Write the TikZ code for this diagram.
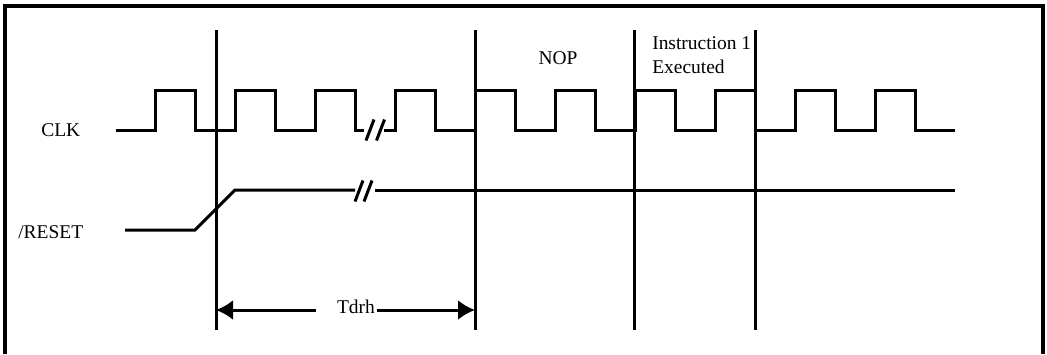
\documentclass[tikz,border=0pt]{standalone}
\usepackage{fontspec}
\setmainfont{Liberation Serif}
\usetikzlibrary{arrows.meta}

\begin{document}
\begin{tikzpicture}[x=0.75pt,y=-0.75pt,
	wave/.style={line width=2.25pt,line join=miter},
	marker/.style={line width=2.25pt},
	brk/.style={line width=2.25pt},
	sigtext/.style={inner sep=0pt,font=\fontsize{14.6}{18}\selectfont},
	spanarrow/.style={line width=2.25pt,-{Latex[length=12.75pt,width=15pt]}}]
  \useasboundingbox (0,0) rectangle (1047,354);
  \draw[line width=2.6pt] (5,354) -- (5,6) -- (1043,6) -- (1043,354);

  \foreach \x/\name in {216/m1,475/m2,634/m3,755/m4}
	{
	\coordinate (\name top) at (\x,30);
	\coordinate (\name bot) at (\x,330);
	\draw[marker] (\name top) -- (\name bot);
	}

  \coordinate (clkstart) at (116,130);
  \coordinate (clkgapl) at (364,130);
  \coordinate (clkgapr) at (384,130);
  \coordinate (clkend) at (955,130);
  \draw[wave] (clkstart)
	\foreach \k in {0,...,2}
		{ -- ({155+80*\k},130) -- ({155+80*\k},90) -- ({195+80*\k},90) -- ({195+80*\k},130) }
	-- (clkgapl);
  \draw[wave] (clkgapr)
	\foreach \k in {3,...,9}
		{ -- ({155+80*\k},130) -- ({155+80*\k},90) -- ({195+80*\k},90) -- ({195+80*\k},130) }
	-- (clkend);

  \coordinate (rststart) at (125,230);
  \coordinate (rstgapl) at (355,190);
  \coordinate (rstgapr) at (375,190);
  \coordinate (rstend) at (955,190);
  \draw[wave] (rststart) -- (195,230) -- (235,190) -- (rstgapl);
  \draw[wave] (rstgapr) -- (rstend);

  \foreach \bx/\by in {370/130,380.5/130,359/191,368/191}
	{
	\draw[brk] ({\bx-4},{\by+10.5}) -- ({\bx+4},{\by-10.5});
	}

  \node[sigtext,anchor=west] (clk) at (41,130) {CLK};
  \node[sigtext,anchor=west] (rst) at (18,232) {/RESET};
  \node[sigtext] (nop) at (558,58) {NOP};
  \node[sigtext,anchor=west,align=left] (instr) at (652,55) {Instruction 1\\Executed};
  \node[sigtext] (tdrh) at (356,306.5) {Tdrh};

  \coordinate (tdl) at (316,310);
  \coordinate (tdr) at (377,310);
  \draw[spanarrow] (tdl) -- (m1top |- tdl);
  \draw[spanarrow] (tdr) -- (m2top |- tdr);
\end{tikzpicture}
\end{document}
